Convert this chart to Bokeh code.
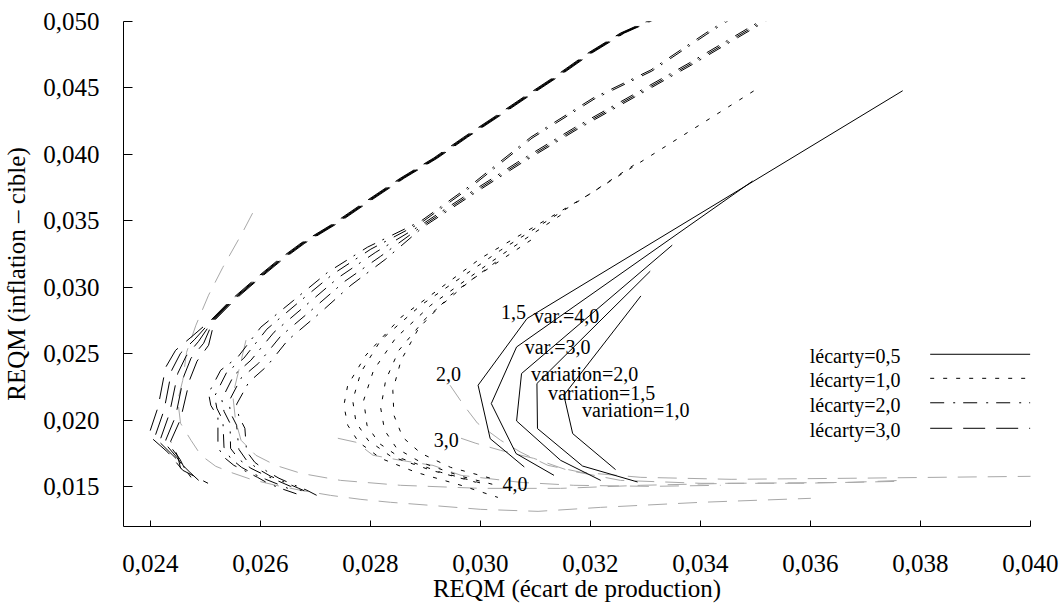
from bokeh.plotting import figure
from bokeh.models import Range1d, FixedTicker
from bokeh.embed import file_html
from bokeh.resources import INLINE
from bokeh.core.properties import value

# ---- axes ----
x_ticks = [0.024, 0.026, 0.028, 0.030, 0.032, 0.034, 0.036, 0.038, 0.040]
x_tick_labels = ["0,024", "0,026", "0,028", "0,030", "0,032", "0,034", "0,036", "0,038", "0,040"]
y_ticks = [0.015, 0.020, 0.025, 0.030, 0.035, 0.040, 0.045, 0.050]
y_tick_labels = ["0,015", "0,020", "0,025", "0,030", "0,035", "0,040", "0,045", "0,050"]

# ---- lécarty = 0,5 (solid) ----
e05_v40_x = [0.03768, 0.03085, 0.02996, 0.03018, 0.03080]
e05_v40_y = [0.04479, 0.02765, 0.02263, 0.01861, 0.01648]
e05_v30_x = [0.03495, 0.03066, 0.03020, 0.03065, 0.03134]
e05_v30_y = [0.03799, 0.02551, 0.02125, 0.01749, 0.01585]
e05_v20_x = [0.03349, 0.03075, 0.03066, 0.03146, 0.03219]
e05_v20_y = [0.03317, 0.02351, 0.01994, 0.01698, 0.01547]
e05_v15_x = [0.03309, 0.03103, 0.03104, 0.03186, 0.03286]
e05_v15_y = [0.03121, 0.02276, 0.01937, 0.01655, 0.01535]
e05_v10_x = [0.03292, 0.03152, 0.03168, 0.03246]
e05_v10_y = [0.02935, 0.02188, 0.01899, 0.01628]

# ---- lécarty = 1,0 (dotted) ----
e10_v40_x = [0.03497, 0.03196, 0.03001, 0.02856, 0.02792, 0.02759, 0.02752, 0.02759, 0.02779, 0.02819, 0.02883, 0.02965, 0.03032]
e10_v40_y = [0.04477, 0.03694, 0.03219, 0.02775, 0.02489, 0.02263, 0.02112, 0.01962, 0.01834, 0.01713, 0.01608, 0.01510, 0.01419]
e10_v30_x = [0.03279, 0.03196, 0.03037, 0.02892, 0.02819, 0.02783, 0.02768, 0.02774, 0.02796, 0.02837, 0.02910, 0.02992]
e10_v30_y = [0.03919, 0.03694, 0.03279, 0.02865, 0.02602, 0.02361, 0.02150, 0.01984, 0.01849, 0.01729, 0.01624, 0.01533]
e10_v20_x = [0.03146, 0.03019, 0.02910, 0.02846, 0.02806, 0.02788, 0.02794, 0.02816, 0.02856, 0.02928, 0.03010]
e10_v20_y = [0.03543, 0.03189, 0.02865, 0.02617, 0.02376, 0.02150, 0.01962, 0.01826, 0.01713, 0.01608, 0.01517]
e10_v15_x = [0.03092, 0.02983, 0.02901, 0.02852, 0.02828, 0.02819, 0.02826, 0.02848, 0.02892, 0.02965, 0.03037]
e10_v15_y = [0.03355, 0.03054, 0.02767, 0.02526, 0.02301, 0.02090, 0.01924, 0.01788, 0.01683, 0.01578, 0.01502]
e10_v10_x = [0.03028, 0.02946, 0.02888, 0.02856, 0.02841, 0.02843, 0.02859, 0.02892, 0.02946, 0.03019]
e10_v10_y = [0.03189, 0.02941, 0.02692, 0.02451, 0.02225, 0.02037, 0.01871, 0.01751, 0.01645, 0.01563]

# ---- lécarty = 2,0 (dash-dot) ----
e20_v40_x = [0.03465, 0.03410, 0.03310, 0.03205, 0.03092, 0.02983, 0.02892, 0.02795, 0.02723, 0.02661, 0.02601, 0.02559, 0.02528, 0.02506, 0.02510, 0.02523, 0.02523, 0.02534, 0.02552, 0.02570, 0.02595, 0.02614, 0.02637, 0.02674]
e20_v40_y = [0.05057, 0.04913, 0.04635, 0.04424, 0.04130, 0.03769, 0.03498, 0.03302, 0.03114, 0.02903, 0.02700, 0.02474, 0.02376, 0.02203, 0.02112, 0.02022, 0.01796, 0.01721, 0.01660, 0.01623, 0.01570, 0.01525, 0.01487, 0.01434]
e20_v30_x = [0.03467, 0.03412, 0.03312, 0.03207, 0.03094, 0.02985, 0.02894, 0.02801, 0.02732, 0.02670, 0.02612, 0.02570, 0.02539, 0.02517, 0.02521, 0.02532, 0.02534, 0.02546, 0.02566, 0.02586, 0.02610, 0.02637, 0.02659]
e20_v30_y = [0.05049, 0.04905, 0.04627, 0.04416, 0.04122, 0.03761, 0.03490, 0.03287, 0.03099, 0.02888, 0.02685, 0.02466, 0.02361, 0.02180, 0.02090, 0.01999, 0.01796, 0.01713, 0.01645, 0.01600, 0.01555, 0.01510, 0.01472]
e20_v20_x = [0.03537, 0.03383, 0.03277, 0.03170, 0.03068, 0.02983, 0.02892, 0.02810, 0.02743, 0.02683, 0.02625, 0.02583, 0.02552, 0.02530, 0.02534, 0.02545, 0.02546, 0.02561, 0.02583, 0.02605, 0.02630, 0.02655, 0.02683]
e20_v20_y = [0.05072, 0.04695, 0.04447, 0.04198, 0.03942, 0.03716, 0.03468, 0.03264, 0.03076, 0.02865, 0.02662, 0.02451, 0.02338, 0.02157, 0.02067, 0.01977, 0.01788, 0.01706, 0.01638, 0.01593, 0.01547, 0.01502, 0.01457]
e20_v15_x = [0.03539, 0.03385, 0.03279, 0.03172, 0.03070, 0.02985, 0.02894, 0.02819, 0.02754, 0.02695, 0.02637, 0.02597, 0.02565, 0.02543, 0.02546, 0.02557, 0.02561, 0.02575, 0.02597, 0.02619, 0.02645, 0.02670, 0.02695]
e20_v15_y = [0.05064, 0.04687, 0.04439, 0.04190, 0.03934, 0.03708, 0.03460, 0.03234, 0.03046, 0.02835, 0.02632, 0.02429, 0.02316, 0.02142, 0.02052, 0.01962, 0.01781, 0.01698, 0.01630, 0.01578, 0.01532, 0.01487, 0.01442]
e20_v10_x = [0.03541, 0.03387, 0.03281, 0.03174, 0.03072, 0.02987, 0.02896, 0.02828, 0.02765, 0.02708, 0.02650, 0.02612, 0.02579, 0.02557, 0.02561, 0.02572, 0.02575, 0.02590, 0.02612, 0.02634, 0.02659, 0.02685, 0.02706]
e20_v10_y = [0.05057, 0.04680, 0.04432, 0.04183, 0.03927, 0.03701, 0.03453, 0.03212, 0.03016, 0.02805, 0.02602, 0.02406, 0.02285, 0.02120, 0.02029, 0.01939, 0.01766, 0.01683, 0.01615, 0.01563, 0.01517, 0.01472, 0.01427]

# ---- lécarty = 3,0 (long dash) ----
e30_v40_x = [0.03337, 0.03255, 0.03196, 0.03134, 0.03079, 0.03025, 0.02970, 0.02915, 0.02855, 0.02795, 0.02734, 0.02674, 0.02632, 0.02588, 0.02546, 0.02510, 0.02474, 0.02446, 0.02428, 0.02414, 0.02397, 0.02432, 0.02459, 0.02505]
e30_v40_y = [0.05064, 0.04913, 0.04763, 0.04582, 0.04432, 0.04281, 0.04130, 0.03972, 0.03822, 0.03656, 0.03483, 0.03332, 0.03204, 0.03054, 0.02903, 0.02752, 0.02624, 0.02526, 0.02398, 0.02097, 0.01886, 0.01758, 0.01623, 0.01525]
e30_v30_x = [0.03339, 0.03257, 0.03198, 0.03136, 0.03081, 0.03027, 0.02972, 0.02917, 0.02857, 0.02797, 0.02736, 0.02676, 0.02634, 0.02590, 0.02548, 0.02512, 0.02481, 0.02455, 0.02439, 0.02425, 0.02408, 0.02441, 0.02472, 0.02488]
e30_v30_y = [0.05064, 0.04913, 0.04763, 0.04582, 0.04432, 0.04281, 0.04130, 0.03972, 0.03822, 0.03656, 0.03483, 0.03332, 0.03204, 0.03054, 0.02903, 0.02752, 0.02609, 0.02504, 0.02376, 0.02075, 0.01871, 0.01736, 0.01608, 0.01547]
e30_v20_x = [0.03341, 0.03259, 0.03200, 0.03138, 0.03083, 0.03029, 0.02974, 0.02919, 0.02859, 0.02799, 0.02738, 0.02678, 0.02636, 0.02592, 0.02550, 0.02514, 0.02488, 0.02465, 0.02450, 0.02435, 0.02419, 0.02448, 0.02474]
e30_v20_y = [0.05064, 0.04913, 0.04763, 0.04582, 0.04432, 0.04281, 0.04130, 0.03972, 0.03822, 0.03656, 0.03483, 0.03332, 0.03204, 0.03054, 0.02903, 0.02752, 0.02594, 0.02481, 0.02353, 0.02052, 0.01864, 0.01721, 0.01570]
e30_v15_x = [0.03342, 0.03260, 0.03201, 0.03139, 0.03084, 0.03030, 0.02975, 0.02920, 0.02860, 0.02800, 0.02739, 0.02679, 0.02637, 0.02593, 0.02551, 0.02515, 0.02497, 0.02474, 0.02461, 0.02446, 0.02428, 0.02454, 0.02466]
e30_v15_y = [0.05064, 0.04913, 0.04763, 0.04582, 0.04432, 0.04281, 0.04130, 0.03972, 0.03822, 0.03656, 0.03483, 0.03332, 0.03204, 0.03054, 0.02903, 0.02752, 0.02579, 0.02466, 0.02331, 0.02029, 0.01849, 0.01706, 0.01608]
e30_v10_x = [0.03344, 0.03262, 0.03203, 0.03141, 0.03086, 0.03032, 0.02977, 0.02922, 0.02862, 0.02802, 0.02741, 0.02681, 0.02639, 0.02595, 0.02553, 0.02517, 0.02506, 0.02485, 0.02472, 0.02455, 0.02437, 0.02450, 0.02455]
e30_v10_y = [0.05064, 0.04913, 0.04763, 0.04582, 0.04432, 0.04281, 0.04130, 0.03972, 0.03822, 0.03656, 0.03483, 0.03332, 0.03204, 0.03054, 0.02903, 0.02752, 0.02564, 0.02444, 0.02308, 0.02007, 0.01841, 0.01728, 0.01638]

# ---- grey reference curves ----
grey_1_x = [0.02586, 0.02568, 0.02532, 0.02506, 0.02483, 0.02466, 0.02459, 0.02450, 0.02455, 0.02474, 0.02492, 0.02519, 0.02546, 0.02583, 0.02628, 0.02674, 0.02728, 0.02783, 0.02837, 0.02910, 0.03001, 0.03105, 0.03219, 0.03401, 0.03601]
grey_1_y = [0.03558, 0.03415, 0.03151, 0.02941, 0.02715, 0.02511, 0.02300, 0.02150, 0.01977, 0.01849, 0.01736, 0.01653, 0.01608, 0.01555, 0.01510, 0.01472, 0.01434, 0.01404, 0.01382, 0.01359, 0.01329, 0.01314, 0.01344, 0.01382, 0.01412]
grey_2_x = [0.02574, 0.02561, 0.02550, 0.02555, 0.02565, 0.02592, 0.02628, 0.02674, 0.02746, 0.02855, 0.03001, 0.03146, 0.03292, 0.03456, 0.03674, 0.03765]
grey_2_y = [0.02602, 0.02376, 0.02188, 0.01999, 0.01849, 0.01736, 0.01660, 0.01600, 0.01547, 0.01510, 0.01487, 0.01487, 0.01510, 0.01525, 0.01532, 0.01547]
grey_3_x = [0.02945, 0.02970, 0.02995, 0.03037, 0.03074, 0.03123, 0.03183, 0.03292, 0.03456, 0.03674, 0.04010]
grey_3_y = [0.02263, 0.02112, 0.01977, 0.01849, 0.01758, 0.01660, 0.01608, 0.01570, 0.01555, 0.01563, 0.01578]
grey_4_x = [0.02965, 0.02992, 0.03037, 0.03097, 0.03159, 0.03255, 0.03401, 0.03583, 0.03765]
grey_4_y = [0.01864, 0.01826, 0.01773, 0.01713, 0.01623, 0.01547, 0.01525, 0.01525, 0.01540]
grey_5_x = [0.02741, 0.02774, 0.02805, 0.02855, 0.02914, 0.02965, 0.03074, 0.03170, 0.03310, 0.03437]
grey_5_y = [0.01864, 0.01834, 0.01736, 0.01698, 0.01660, 0.01585, 0.01532, 0.01510, 0.01502, 0.01510]

# ---- annotations ----
curve_label_text = ["1,5", "2,0", "3,0", "4,0"]
curve_label_x = [0.03083, 0.02965, 0.02961, 0.03086]
curve_label_y = [0.02815, 0.02346, 0.01849, 0.01523]
variation_text = ["var.=4,0", "var.=3,0", "variation=2,0", "variation=1,5", "variation=1,0"]
variation_x = [0.03097, 0.03081, 0.03092, 0.03123, 0.03185]
variation_y = [0.02782, 0.02551, 0.02346, 0.02208, 0.02080]

legend_text = ["lécarty=0,5", "lécarty=1,0", "lécarty=2,0", "lécarty=3,0"]
legend_dash = ["solid", "4 9", "14 9 2 8", "22 11"]
legend_rows_y = [0.02496, 0.02315, 0.02131, 0.01939]
legend_text_x = 0.03764
legend_line_x = [0.03818, 0.04000]

FONT = "'Liberation Serif', 'Times New Roman', Tinos, serif"

p = figure(width=1063, height=611, output_backend="svg", toolbar_location=None,
           x_range=Range1d(0.023513, 0.040004), y_range=Range1d(0.012, 0.050),
           min_border_left=123, min_border_right=33, min_border_top=21, min_border_bottom=85)
p.outline_line_color = None
p.grid.visible = False
p.background_fill_color = "white"
p.border_fill_color = "white"

p.xaxis.ticker = FixedTicker(ticks=x_ticks)
p.xaxis.major_label_overrides = dict(zip(x_ticks, x_tick_labels))
p.yaxis.ticker = FixedTicker(ticks=y_ticks)
p.yaxis.major_label_overrides = dict(zip(y_ticks, y_tick_labels))
p.xaxis.axis_label = "REQM (écart de production)"
p.yaxis.axis_label = "REQM (inflation – cible)"

for ax in (p.xaxis[0], p.yaxis[0]):
    ax.major_tick_out = 0
    ax.minor_tick_in = 0
    ax.minor_tick_out = 0
    ax.axis_line_color = "black"
    ax.major_tick_line_color = "black"
    ax.major_label_text_font = FONT
    ax.major_label_text_font_size = "25px"
    ax.major_label_text_color = "black"
    ax.axis_label_text_font = FONT
    ax.axis_label_text_font_size = "25px"
    ax.axis_label_text_font_style = "normal"
    ax.axis_label_text_color = "black"
p.xaxis.major_tick_in = 6
p.yaxis.major_tick_in = 9
p.xaxis.major_label_standoff = 28
p.xaxis.axis_label_standoff = 0
p.yaxis.major_label_standoff = 24
p.yaxis.axis_label_standoff = 10

GREY = "#a8a8a8"
for gx, gy in [(grey_1_x, grey_1_y), (grey_2_x, grey_2_y), (grey_3_x, grey_3_y),
               (grey_4_x, grey_4_y), (grey_5_x, grey_5_y)]:
    p.line(gx, gy, line_color=GREY, line_width=1, line_dash="19 11")

families = [
    ("solid", [(e05_v40_x, e05_v40_y), (e05_v30_x, e05_v30_y), (e05_v20_x, e05_v20_y),
               (e05_v15_x, e05_v15_y), (e05_v10_x, e05_v10_y)]),
    ("4 9", [(e10_v40_x, e10_v40_y), (e10_v30_x, e10_v30_y), (e10_v20_x, e10_v20_y),
             (e10_v15_x, e10_v15_y), (e10_v10_x, e10_v10_y)]),
    ("14 9 2 8", [(e20_v40_x, e20_v40_y), (e20_v30_x, e20_v30_y), (e20_v20_x, e20_v20_y),
                  (e20_v15_x, e20_v15_y), (e20_v10_x, e20_v10_y)]),
    ("22 11", [(e30_v40_x, e30_v40_y), (e30_v30_x, e30_v30_y), (e30_v20_x, e30_v20_y),
               (e30_v15_x, e30_v15_y), (e30_v10_x, e30_v10_y)]),
]
for dash, curves in families:
    for cx, cy in curves:
        p.line(cx, cy, line_color="black", line_width=1, line_dash=dash)

p.text(x=curve_label_x, y=curve_label_y, text=curve_label_text,
       text_font=value(FONT), text_font_size="20px", text_color="black",
       text_align="right", text_baseline="alphabetic")
p.text(x=variation_x, y=variation_y, text=variation_text,
       text_font=value(FONT), text_font_size="20px", text_color="black",
       text_align="left", text_baseline="alphabetic")

# legend: label on the left, line sample on the right
p.text(x=[legend_text_x] * 4, y=legend_rows_y, text=legend_text,
       text_font=value(FONT), text_font_size="20px", text_color="black",
       text_align="right", text_baseline="middle", y_offset=2)
for ly, dash in zip(legend_rows_y, legend_dash):
    p.line(legend_line_x, [ly, ly], line_color="black", line_width=1, line_dash=dash)

open("out.html", "w").write(file_html(p, INLINE))
